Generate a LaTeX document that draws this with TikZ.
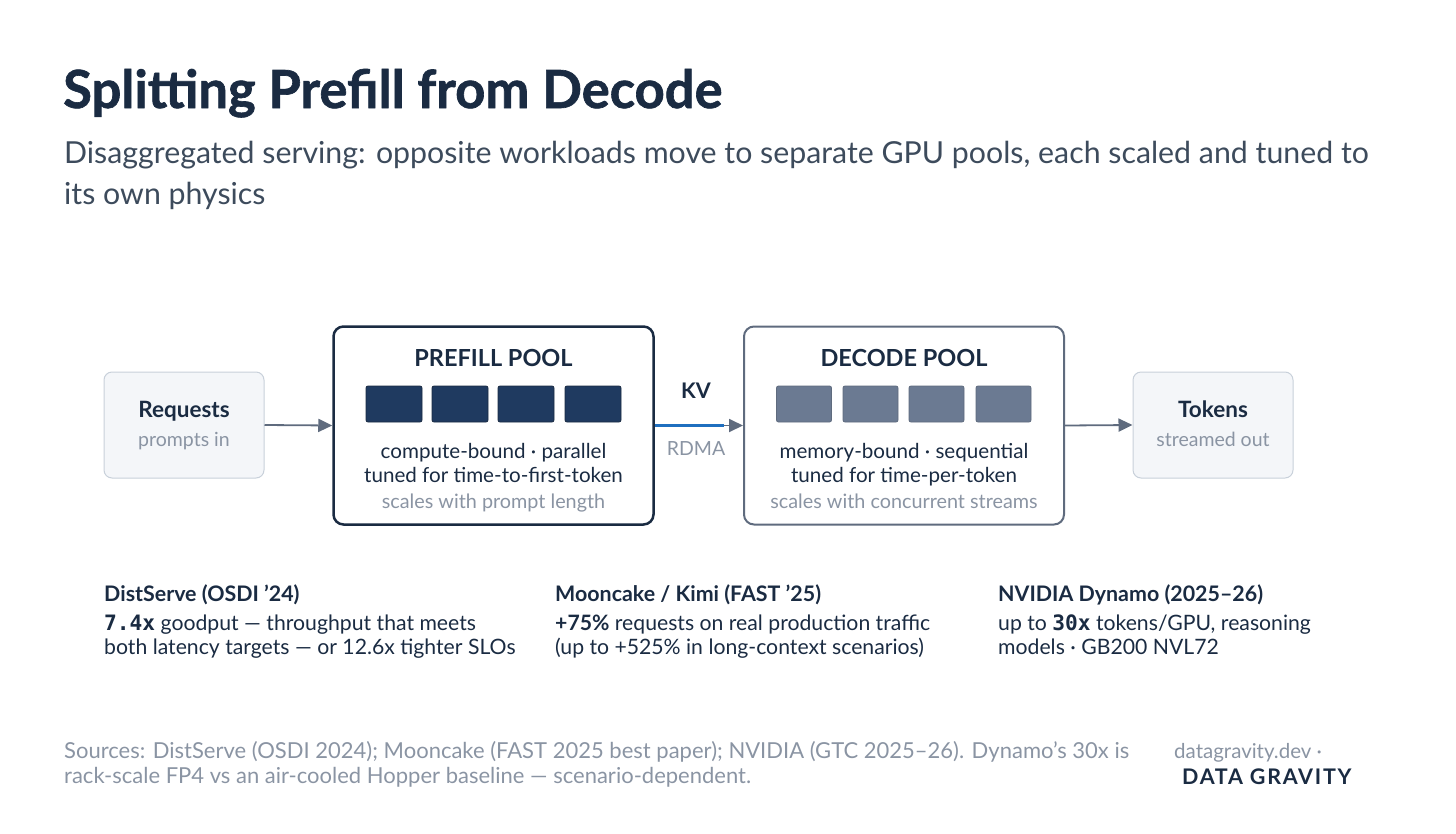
\documentclass[tikz,border=0pt]{standalone}
\usepackage{fontspec}
\setmainfont{Lato}
\newfontfamily\monof{DejaVu Sans Mono}
\usetikzlibrary{arrows.meta}
\definecolor{navy}{HTML}{1A2B42}
\definecolor{sub}{HTML}{3D4B5C}
\definecolor{gr}{HTML}{8A94A3}
\definecolor{arr}{HTML}{5F6B7E}
\definecolor{blk}{HTML}{1F3A60}
\definecolor{dblk}{HTML}{6B7A92}
\definecolor{kvb}{HTML}{1F6FBF}
\definecolor{lite}{HTML}{F4F6F9}
\definecolor{liteb}{HTML}{C8D0DA}
\begin{document}
\begin{tikzpicture}[x=1pt,y=-1pt,
 side/.style={draw=liteb,fill=lite,rounded corners=8pt,line width=1pt},
 pool/.style={rounded corners=10pt,fill=white},
 sq/.style={draw=navy,fill=blk,rounded corners=2pt,line width=0.8pt,minimum width=56pt,minimum height=36pt,inner sep=0pt},
 dsq/.style={draw=arr,fill=dblk,rounded corners=2pt,line width=0.8pt,minimum width=55pt,minimum height=36pt,inner sep=0pt},
 con/.style={draw=arr,line width=1.8pt,-{Triangle[length=14pt,width=13pt]}},
 t/.style={inner sep=0pt,anchor=base},
 lbl/.style={inner sep=0pt,anchor=base west,font=\fontsize{21.2}{25}\selectfont,text=navy}]
\path[use as bounding box] (0,0) rectangle (1456,833);
\node[inner sep=0pt,anchor=base west,font=\fontsize{52.5}{60}\selectfont\bfseries\addfontfeatures{FakeBold=1.2},text=navy] (title) at (63,108) {Splitting Prefill from Decode};
\node[inner sep=0pt,anchor=base west,font=\fontsize{30.3}{40}\selectfont,text=sub] (s1) at (64,163) {Disaggregated serving: opposite workloads move to separate GPU pools, each scaled and tuned to};
\node[inner sep=0pt,anchor=base west,font=\fontsize{30.3}{40}\selectfont,text=sub] (s2) at (64,204) {its own physics};
% side boxes
\node[side,minimum width=160pt,minimum height=106pt] (req) at (184,425) {};
\node[t,font=\fontsize{22.5}{26}\selectfont\bfseries,text=navy] at (184,417) {Requests};
\node[t,font=\fontsize{19.5}{22}\selectfont,text=gr] at (184,446) {prompts in};
\node[side,minimum width=160pt,minimum height=106pt] (tok) at (1213,425) {};
\node[t,font=\fontsize{22.5}{26}\selectfont\bfseries,text=navy] at (1213,417) {Tokens};
\node[t,font=\fontsize{19.5}{22}\selectfont,text=gr] at (1213,446) {streamed out};
% pools
\node[pool,draw=navy,line width=2.5pt,minimum width=320pt,minimum height=198pt] (pre) at (493.5,425.5) {};
\node[t,font=\fontsize{23.5}{27}\selectfont\bfseries,text=navy] at (493.5,366) {PREFILL POOL};
\foreach \x/\n in {394/a,460/b,526/c,593/d} \node[sq] (p\n) at (\x,404) {};
\node[t,font=\fontsize{20.6}{24}\selectfont,text=navy] at (493.5,458) {compute-bound · parallel};
\node[t,font=\fontsize{20.6}{24}\selectfont,text=navy] at (493.5,482) {tuned for time-to-first-token};
\node[t,font=\fontsize{19.8}{23}\selectfont,text=gr] at (493.5,508) {scales with prompt length};
\node[pool,draw=arr,line width=2pt,minimum width=320pt,minimum height=198pt] (dec) at (904,425.5) {};
\node[t,font=\fontsize{23.5}{27}\selectfont\bfseries,text=navy] at (904,366) {DECODE POOL};
\foreach \x/\n in {804/a,870.5/b,936.5/c,1003.5/d} \node[dsq] (d\n) at (\x,404) {};
\node[t,font=\fontsize{20.6}{24}\selectfont,text=navy] at (904,458) {memory-bound · sequential};
\node[t,font=\fontsize{20.6}{24}\selectfont,text=navy] at (904,482) {tuned for time-per-token};
\node[t,font=\fontsize{19.8}{23}\selectfont,text=gr] at (904,508) {scales with concurrent streams};
% connectors
\draw[con] (req.east) -- (pre.west);
\draw[con] (dec.east) -- (tok.west);
\draw[draw=kvb,line width=2.5pt] (pre.east) -- (724,425.5) coordinate (kvend);
\draw[con] (kvend) -- (dec.west);
\node[t,font=\fontsize{21.5}{25}\selectfont\bfseries,text=navy] (kv) at (696,398) {KV};
\node[t,font=\fontsize{19.5}{23}\selectfont,text=gr] (rdma) at (696,455) {RDMA};
% results
\node[lbl,font=\fontsize{21.4}{25}\selectfont\bfseries] at (104,601) {DistServe (OSDI ’24)};
\node[lbl] at (104,630) {{\monof\bfseries 7.4x} goodput — throughput that meets};
\node[lbl] at (104,654) {both latency targets — or 12.6x tighter SLOs};
\node[lbl,font=\fontsize{21.4}{25}\selectfont\bfseries] at (555,601) {Mooncake / Kimi (FAST ’25)};
\node[lbl] at (555,630) {\textbf{+75\%} requests on real production traffic};
\node[lbl] at (555,654) {(up to +525\% in long-context scenarios)};
\node[lbl,font=\fontsize{21.4}{25}\selectfont\bfseries] at (998,601) {NVIDIA Dynamo (2025–26)};
\node[lbl] at (998,630) {up to {\monof\bfseries 30x} tokens/GPU, reasoning};
\node[lbl] at (998,654) {models · GB200 NVL72};
% footer
\node[inner sep=0pt,anchor=base west,font=\fontsize{22}{26}\selectfont,text=gr] at (64,758) {Sources: DistServe (OSDI 2024); Mooncake (FAST 2025 best paper); NVIDIA (GTC 2025–26). Dynamo’s 30x is};
\node[inner sep=0pt,anchor=base west,font=\fontsize{22}{26}\selectfont,text=gr] at (64,783) {rack-scale FP4 vs an air-cooled Hopper baseline — scenario-dependent.};
\node[inner sep=0pt,anchor=base west,font=\fontsize{20.5}{24}\selectfont,text=gr] at (1174,758) {datagravity.dev ·};
\node[inner sep=0pt,anchor=base west,font=\fontsize{21.5}{24}\selectfont\bfseries\addfontfeatures{LetterSpace=8},text=navy] at (1182,784) {DATA GRAVITY};
\end{tikzpicture}
\end{document}
